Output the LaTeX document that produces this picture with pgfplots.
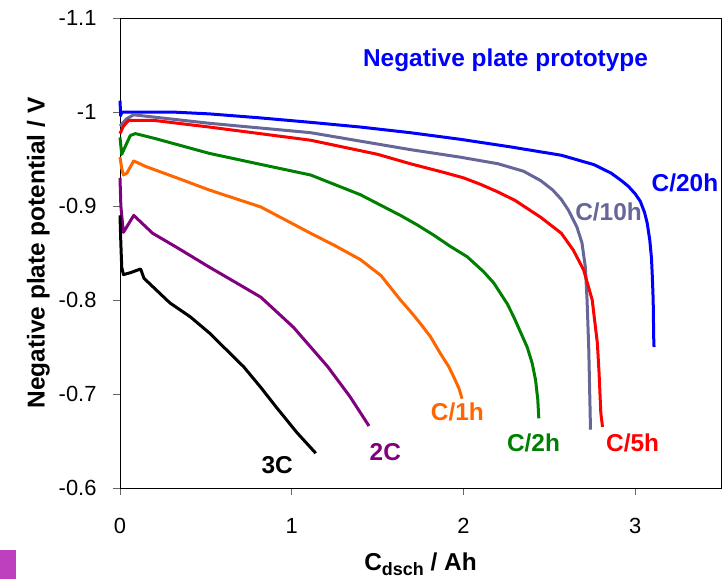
\documentclass[border=0pt]{standalone}
\usepackage{pgfplots}
\pgfplotsset{compat=1.18}
\usepackage{fontspec}
\setmainfont{Liberation Sans}

\definecolor{c20}{RGB}{0,0,255}
\definecolor{c10}{RGB}{102,102,153}
\definecolor{c5}{RGB}{255,0,0}
\definecolor{c2}{RGB}{0,128,0}
\definecolor{c1}{RGB}{255,102,0}
\definecolor{c2C}{RGB}{128,0,128}
\definecolor{slidemag}{RGB}{190,64,190}

\newcommand{\tickfont}{\fontsize{22}{26}\selectfont}
\newcommand{\lab}{\fontsize{24.5}{28}\selectfont\bfseries}

\begin{document}
\begin{tikzpicture}[x=1bp,y=1bp]
\path[use as bounding box] (-120,-91) rectangle (606,488);
\fill[slidemag] (-120,-91) rectangle (-104,-62);
\begin{axis}[
  at={(0,0)}, anchor=south west,
  scale only axis,
  width=601bp, height=470bp,
  xmin=0, xmax=3.5,
  ymin=-1.1, ymax=-0.6,
  y dir=reverse,
  xtick={0,1,2,3},
  xticklabels={0,1,2,3},
  ytick={-1.1,-1,-0.9,-0.8,-0.7,-0.6},
  yticklabels={-1.1,-1,-0.9,-0.8,-0.7,-0.6},
  tick align=outside,
  major tick length=7bp,
  xtick pos=bottom, ytick pos=left,
  tick style={gray!80!black, line width=0.8bp},
  axis line style={line width=0.9bp},
  ticklabel style={font=\tickfont},
  yticklabel style={xshift=-13bp},
  xticklabel style={yshift=-20bp},
  xlabel={\lab C\raisebox{-0.35ex}{\fontsize{18}{20}\selectfont dsch} / Ah},
  ylabel={\lab Negative plate potential / V},
  xlabel style={yshift=-12bp},
  ylabel style={yshift=2bp},
  every axis plot/.append style={line width=3bp, line join=round, no markers},
  clip=false,
]
% C/20h
\addplot[c20] coordinates {
(0,-1.012)(0.004,-0.996)(0.01,-1.0)(0.1,-1.0)(0.3,-1.0)(0.52,-0.998)(0.8,-0.994)
(1.11,-0.989)(1.4,-0.984)(1.69,-0.978)(1.98,-0.971)(2.27,-0.963)(2.57,-0.954)
(2.76,-0.944)(2.86,-0.935)(2.92,-0.927)(2.96,-0.921)(3.0,-0.913)(3.03,-0.905)
(3.055,-0.893)(3.07,-0.882)(3.085,-0.864)(3.095,-0.845)(3.10,-0.825)
(3.105,-0.80)(3.108,-0.76)(3.11,-0.75)
};
% C/10h
\addplot[c10] coordinates {
(0,-0.985)(0.04,-0.993)(0.08,-0.997)(0.52,-0.988)(1.11,-0.978)(1.69,-0.960)
(1.98,-0.952)(2.2,-0.945)(2.35,-0.937)(2.45,-0.927)(2.52,-0.917)(2.57,-0.907)
(2.61,-0.896)(2.66,-0.878)(2.69,-0.861)(2.71,-0.835)(2.72,-0.80)(2.73,-0.747)
(2.74,-0.662)
};
% C/5h
\addplot[c5] coordinates {
(0,-0.977)(0.02,-0.985)(0.05,-0.991)(0.2,-0.991)(0.52,-0.984)(1.11,-0.970)
(1.5,-0.955)(1.69,-0.945)(1.88,-0.936)(2.0,-0.930)(2.1,-0.923)(2.2,-0.915)
(2.3,-0.906)(2.45,-0.888)(2.57,-0.871)(2.64,-0.853)(2.70,-0.832)(2.75,-0.80)
(2.78,-0.754)(2.79,-0.722)(2.80,-0.680)(2.81,-0.665)
};
% C/2h
\addplot[c2] coordinates {
(0,-0.973)(0.01,-0.955)(0.03,-0.963)(0.06,-0.975)(0.09,-0.977)(0.2,-0.972)
(0.52,-0.956)(0.8,-0.945)(1.11,-0.933)(1.4,-0.912)(1.633,-0.890)(1.730,-0.880)
(1.827,-0.869)(1.924,-0.857)(2.022,-0.846)(2.118,-0.830)(2.177,-0.818)
(2.255,-0.796)(2.293,-0.782)(2.332,-0.766)(2.371,-0.750)(2.400,-0.733)
(2.420,-0.715)(2.433,-0.694)(2.439,-0.674)
};
% C/1h
\addplot[c1] coordinates {
(0,-0.952)(0.01,-0.94)(0.02,-0.933)(0.04,-0.935)(0.08,-0.948)(0.15,-0.942)
(0.33,-0.930)(0.52,-0.917)(0.82,-0.899)(1.11,-0.871)(1.25,-0.858)(1.4,-0.843)
(1.52,-0.826)(1.633,-0.800)(1.691,-0.788)(1.749,-0.775)(1.808,-0.761)
(1.866,-0.743)(1.915,-0.729)(1.944,-0.718)(1.974,-0.706)(1.992,-0.695)
};
% 2C
\addplot[c2C] coordinates {
(0,-0.93)(0.005,-0.90)(0.01,-0.89)(0.02,-0.872)(0.04,-0.878)(0.08,-0.890)
(0.19,-0.871)(0.33,-0.856)(0.52,-0.835)(0.68,-0.818)(0.82,-0.803)(1.01,-0.771)
(1.11,-0.750)(1.21,-0.729)(1.34,-0.697)(1.45,-0.666)
};
% 3C
\addplot[black] coordinates {
(0,-0.89)(0.005,-0.86)(0.01,-0.835)(0.02,-0.827)(0.06,-0.829)(0.12,-0.833)
(0.14,-0.823)(0.29,-0.797)(0.41,-0.782)(0.52,-0.765)(0.62,-0.747)(0.72,-0.729)
(0.82,-0.707)(0.91,-0.686)(1.03,-0.659)(1.14,-0.637)
};
\node[text=c20, font=\lab] at (axis cs:2.245,-1.055) {Negative plate prototype};
\node[text=c20, font=\lab] at (axis cs:3.29,-0.9245) {C/20h};
\node[text=c10, font=\lab] at (axis cs:2.845,-0.894) {C/10h};
\node[text=c5, font=\lab] at (axis cs:2.985,-0.648) {C/5h};
\node[text=c2, font=\lab] at (axis cs:2.408,-0.648) {C/2h};
\node[text=c1, font=\lab] at (axis cs:1.965,-0.681) {C/1h};
\node[text=c2C, font=\lab] at (axis cs:1.545,-0.638) {2C};
\node[text=black, font=\lab] at (axis cs:0.915,-0.624) {3C};
\end{axis}
\end{tikzpicture}
\end{document}
